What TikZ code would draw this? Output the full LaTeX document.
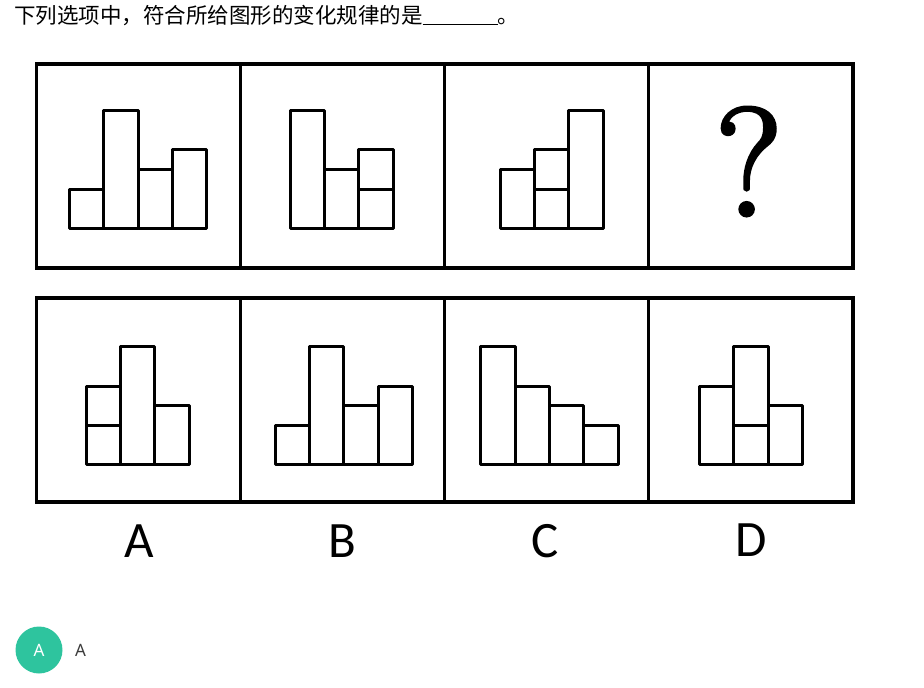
\documentclass[tikz,border=0pt]{standalone}
\usepackage{fontspec}
\newfontfamily\cjk{Noto Sans CJK SC}
\newfontfamily\labelfont{Carlito}
\newfontfamily\uifont{Noto Sans}
\newfontfamily\fragefont[FakeBold=2.5]{Latin Modern Roman}
\usetikzlibrary{positioning}
\definecolor{antwortgruen}{RGB}{46,196,158}
\definecolor{antworttext}{RGB}{60,60,60}
\def\bw{34.35}
\def\eh{19.6}
% Saeulen: linke Kante, Grundlinie, Hoehen
\newcommand{\saeulen}[3]{%
  \foreach \h [count=\i from 0] in {#3}
    \draw[balken] ({#1+\i*\bw},#2) rectangle ++(\bw,{-\h*\eh});
}
\tikzset{
  feld/.style={draw, line width=3.2pt, minimum width=204.2pt, minimum height=204pt,
    inner sep=0pt, outer sep=0pt},
  balken/.style={draw, line width=3pt, line join=round},
  buchstabe/.style={font=\labelfont\fontsize{51}{51}\selectfont},
}
\begin{document}
\begin{tikzpicture}[x=1pt, y=-1pt]
  \useasboundingbox (0,0) rectangle (924,688);

  % Aufgabe
  \node[anchor=west, inner sep=0pt, font=\cjk\fontsize{21.5}{21.5}\selectfont] (frage) at (14,16)
    {下列选项中，符合所给图形的变化规律的是\rule[-1.5pt]{75pt}{1.2pt}。};

  % Obere Reihe
  \node[feld] (q1) at (138.25,166) {};
  \node[feld, right=0pt of q1] (q2) {};
  \node[feld, right=0pt of q2] (q3) {};
  \node[feld, right=0pt of q3] (q4) {};

  \saeulen{69.3}{228.3}{2,6,3,4}
  \saeulen{290}{228.3}{6,3,4}
  \draw[balken] ({290+2*\bw},{228.3-2*\eh}) -- ++(\bw,0);
  \saeulen{500}{228.3}{3,4,6}
  \draw[balken] ({500+\bw},{228.3-2*\eh}) -- ++(\bw,0);

  \node[font=\fragefont\fontsize{154}{154}\selectfont, inner sep=0pt] (fragezeichen)
    at ([xshift=-2pt, yshift=4.5pt]q4.center) {?};

  % Untere Reihe
  \node[feld] (a1) at (138.25,400) {};
  \node[feld, right=0pt of a1] (a2) {};
  \node[feld, right=0pt of a2] (a3) {};
  \node[feld, right=0pt of a3] (a4) {};

  \saeulen{86}{464.5}{4,6,3}
  \draw[balken] (86,{464.5-2*\eh}) -- ++(\bw,0);
  \saeulen{275}{464.5}{2,6,3,4}
  \saeulen{480.7}{464.5}{6,4,3,2}
  \saeulen{699.3}{464.5}{4,6,3}
  \draw[balken] ({699.3+\bw},{464.5-2*\eh}) -- ++(\bw,0);

  % Beschriftung
  \node[buchstabe] (la) at ([xshift=1.5pt, yshift=-39.5pt]a1.south) {A};
  \node[buchstabe] (lb) at ([yshift=-39.5pt]a2.south) {B};
  \node[buchstabe] (lc) at ([xshift=-1.5pt, yshift=-39.5pt]a3.south) {C};
  \node[buchstabe] (ld) at ([yshift=-38.5pt]a4.south) {D};

  % Loesung
  \node[circle, fill=antwortgruen, minimum size=47pt, inner sep=0pt, text=white,
    font=\uifont\fontsize{17}{17}\selectfont] (loesung) at (39,650) {A};
  \node[right=9pt of loesung, text=antworttext, font=\uifont\fontsize{17}{17}\selectfont]
    (loesungtext) {A};
\end{tikzpicture}
\end{document}
